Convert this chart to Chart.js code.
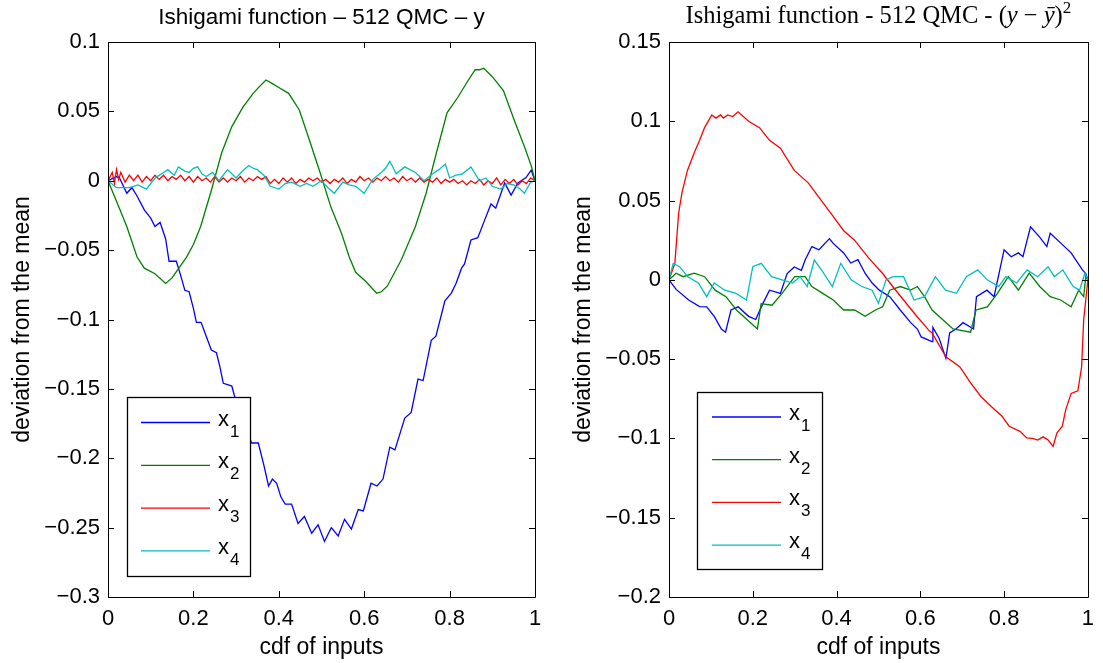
<!DOCTYPE html>
<html>
<head>
<meta charset="utf-8">
<script src="https://cdn.jsdelivr.net/npm/chart.js@4.4.1/dist/chart.umd.min.js"></script>
<style>
  html, body { margin: 0; padding: 0; background: #fff; }
  #wrap { position: relative; width: 1103px; height: 663px; overflow: hidden; }
  canvas { position: absolute; top: 0; }
</style>
</head>
<body>
<div id="wrap">
  <canvas id="left" width="551" height="663" style="left:0"></canvas>
  <canvas id="right" width="552" height="663" style="left:551px"></canvas>
</div>
<script>
// ---------------- DATA ----------------
const seriesNames = ["x1", "x2", "x3", "x4"];
const seriesColors = ["#0000ff", "#008000", "#ff0000", "#00bfbf"];
const xTicks = [0, 0.2, 0.4, 0.6, 0.8, 1];
const yTicksLeft = [0.1, 0.05, 0, -0.05, -0.1, -0.15, -0.2, -0.25, -0.3];
const yTicksRight = [0.15, 0.1, 0.05, 0, -0.05, -0.1, -0.15, -0.2];

// Left panel: y
const L1cdf = [0,0.02,0.027,0.044,0.056,0.068,0.085,0.1,0.11,0.122,0.135,0.143,0.149,0.16,0.17,0.18,0.19,0.2,0.207,0.218,0.23,0.242,0.254,0.262,0.27,0.28,0.29,0.297,0.31,0.322,0.336,0.352,0.365,0.376,0.385,0.395,0.405,0.415,0.43,0.445,0.46,0.477,0.492,0.507,0.515,0.523,0.539,0.554,0.57,0.586,0.598,0.616,0.63,0.644,0.66,0.672,0.695,0.71,0.726,0.738,0.757,0.768,0.789,0.804,0.815,0.828,0.835,0.85,0.866,0.88,0.897,0.908,0.929,0.944,0.96,0.979,0.991,1];
const L1val = [0,0.003,0.002,-0.009,-0.005,-0.011,-0.021,-0.027,-0.033,-0.03,-0.042,-0.058,-0.058,-0.058,-0.068,-0.079,-0.08,-0.092,-0.102,-0.102,-0.112,-0.122,-0.124,-0.134,-0.146,-0.147,-0.148,-0.156,-0.165,-0.176,-0.189,-0.189,-0.205,-0.22,-0.215,-0.218,-0.228,-0.233,-0.233,-0.247,-0.242,-0.254,-0.248,-0.26,-0.255,-0.25,-0.256,-0.244,-0.251,-0.237,-0.238,-0.218,-0.22,-0.215,-0.192,-0.194,-0.171,-0.167,-0.143,-0.144,-0.115,-0.112,-0.0865,-0.081,-0.074,-0.063,-0.06,-0.0427,-0.041,-0.03,-0.0167,-0.0198,-0.0016,-0.0103,-0.0016,0.0023,0.0077,0];

const L2cdf = [0,0.019,0.044,0.068,0.085,0.11,0.135,0.15,0.159,0.184,0.2,0.217,0.242,0.266,0.29,0.316,0.34,0.355,0.37,0.385,0.398,0.423,0.448,0.472,0.497,0.522,0.547,0.565,0.58,0.605,0.629,0.64,0.654,0.687,0.72,0.745,0.769,0.794,0.819,0.844,0.86,0.87,0.88,0.9,0.926,0.951,0.976,0.992,1];
const L2val = [0,-0.014,-0.033,-0.055,-0.063,-0.067,-0.074,-0.07,-0.066,-0.055,-0.046,-0.033,-0.007,0.02,0.039,0.053,0.063,0.068,0.0726,0.07,0.0676,0.063,0.051,0.029,0.0056,-0.019,-0.038,-0.055,-0.066,-0.073,-0.081,-0.08,-0.076,-0.057,-0.033,-0.009,0.02,0.049,0.06,0.0726,0.08,0.08,0.081,0.075,0.065,0.044,0.024,0.01,0];

const L3cdf = [0,0.01,0.015,0.02,0.025,0.03,0.04,0.05,0.06,0.07,0.08,0.09,0.1,0.11,0.12,0.13,0.14,0.15,0.16,0.17,0.18,0.19,0.2,0.21,0.22,0.23,0.24,0.25,0.26,0.27,0.28,0.29,0.3,0.31,0.32,0.33,0.34,0.35,0.36,0.37,0.38,0.39,0.4,0.41,0.42,0.43,0.44,0.45,0.46,0.47,0.48,0.49,0.5,0.51,0.52,0.53,0.54,0.55,0.56,0.57,0.58,0.59,0.6,0.61,0.62,0.63,0.64,0.65,0.66,0.67,0.68,0.69,0.7,0.71,0.72,0.73,0.74,0.75,0.76,0.77,0.78,0.79,0.8,0.81,0.82,0.83,0.84,0.85,0.86,0.87,0.88,0.89,0.9,0.91,0.92,0.93,0.94,0.95,0.96,0.97,0.98,0.99,1];
const L3val = [0,0.006,-0.002,0.008,0.001,0.006,-0.001,0.004,0.0,0.004,-0.001,0.003,0.0,0.004,0.001,0.004,0.0,0.003,0.001,0.004,0.0,0.003,-0.001,0.003,0.0,0.002,-0.001,0.003,-0.001,0.002,-0.001,0.002,0.0,0.003,-0.001,0.002,0.0,0.003,0.001,0.003,-0.002,0.001,-0.002,0.002,-0.001,0.002,-0.002,0.001,-0.001,0.002,0.0,0.002,-0.001,0.001,-0.002,0.001,-0.001,0.002,-0.002,0.001,-0.001,0.003,0.0,0.002,-0.001,0.002,0.0,0.003,0.0,0.002,-0.001,0.003,0.0,0.002,-0.001,0.002,-0.001,0.001,-0.001,0.002,-0.002,0.001,-0.001,0.001,-0.002,0.0,-0.003,0.0,-0.002,0.001,-0.003,0.0,-0.002,0.002,-0.003,0.001,-0.002,0.001,-0.003,0.0,-0.002,0.002,0];

const L4cdf = [0,0.02,0.05,0.07,0.09,0.105,0.115,0.13,0.14,0.155,0.165,0.18,0.19,0.2,0.21,0.22,0.23,0.245,0.26,0.27,0.28,0.29,0.3,0.315,0.33,0.34,0.35,0.365,0.38,0.4,0.415,0.43,0.45,0.465,0.48,0.5,0.515,0.53,0.55,0.565,0.58,0.6,0.62,0.64,0.65,0.66,0.675,0.695,0.72,0.74,0.76,0.775,0.79,0.8,0.815,0.83,0.85,0.87,0.885,0.9,0.92,0.935,0.95,0.965,0.975,0.99,1];
const L4val = [0,-0.005,-0.005,-0.003,-0.006,0.0,0.003,0.006,0.008,0.004,0.01,0.007,0.006,0.009,0.01,0.005,0.003,0.006,0.0,0.004,0.008,0.005,0.002,0.007,0.011,0.009,0.008,0.004,-0.004,-0.006,-0.002,-0.001,-0.004,-0.002,-0.004,0.0,-0.005,-0.009,-0.001,-0.003,-0.004,-0.009,0.001,0.006,0.009,0.014,0.005,0.01,0.006,0.0,0.005,0.008,0.012,0.002,0.004,0.005,0.01,0.0,0.002,-0.004,-0.006,-0.002,-0.003,-0.006,-0.009,-0.001,0];

// Right panel: (y - ybar)^2
const R1cdf = [0,0.017,0.047,0.073,0.09,0.108,0.125,0.135,0.148,0.165,0.19,0.207,0.224,0.24,0.266,0.282,0.299,0.316,0.325,0.341,0.358,0.383,0.392,0.417,0.434,0.451,0.468,0.485,0.502,0.527,0.552,0.577,0.593,0.602,0.628,0.63,0.645,0.661,0.67,0.685,0.702,0.727,0.734,0.759,0.776,0.8,0.817,0.834,0.845,0.863,0.885,0.902,0.91,0.936,0.96,0.987,0.995,1];
const R1val = [0,-0.006,-0.0127,-0.0169,-0.017,-0.023,-0.031,-0.033,-0.019,-0.017,-0.023,-0.025,-0.015,-0.0065,-0.0085,0.004,0.0081,0.006,0.0125,0.021,0.019,0.026,0.023,0.017,0.0106,0.0127,0.0042,-0.002,-0.0065,-0.0106,-0.019,-0.027,-0.031,-0.036,-0.039,-0.03,-0.037,-0.0495,-0.0335,-0.031,-0.027,-0.031,-0.0106,-0.0065,-0.0106,0.019,0.0146,0.017,0.0146,0.0335,0.027,0.021,0.0294,0.023,0.017,0.0063,0.004,0];

const R2cdf = [0,0.017,0.034,0.06,0.085,0.11,0.136,0.161,0.186,0.211,0.22,0.246,0.27,0.3,0.325,0.341,0.367,0.392,0.417,0.443,0.468,0.493,0.51,0.527,0.552,0.577,0.593,0.61,0.628,0.653,0.678,0.72,0.733,0.76,0.784,0.81,0.834,0.86,0.885,0.91,0.935,0.96,0.978,0.99,0.995,1];
const R2val = [0,0.0042,0.002,0.0042,0.002,-0.0065,-0.0106,-0.019,-0.025,-0.031,-0.015,-0.016,-0.0085,0.002,0.002,-0.0042,-0.0085,-0.0127,-0.019,-0.019,-0.023,-0.019,-0.017,-0.0065,-0.0042,-0.0065,-0.0042,-0.0106,-0.019,-0.025,-0.031,-0.033,-0.019,-0.017,-0.0085,0.002,-0.0065,0.0042,-0.0042,-0.0106,-0.0127,-0.017,-0.0065,-0.0106,0.002,0];

const R3cdf = [0,0.014,0.023,0.031,0.044,0.06,0.073,0.085,0.102,0.112,0.123,0.13,0.14,0.152,0.165,0.19,0.216,0.24,0.266,0.299,0.333,0.358,0.392,0.417,0.443,0.476,0.51,0.535,0.56,0.593,0.62,0.628,0.661,0.694,0.72,0.745,0.77,0.795,0.812,0.838,0.854,0.868,0.88,0.893,0.905,0.917,0.926,0.939,0.947,0.96,0.976,0.985,0.99,1];
const R3val = [0,0.0104,0.042,0.055,0.069,0.08,0.088,0.096,0.104,0.102,0.104,0.102,0.104,0.103,0.106,0.1,0.096,0.088,0.083,0.069,0.061,0.052,0.04,0.031,0.025,0.014,0.004,-0.0045,-0.0127,-0.0234,-0.0317,-0.0335,-0.0485,-0.0548,-0.065,-0.0737,-0.08,-0.086,-0.0923,-0.0955,-0.0997,-0.1,-0.101,-0.099,-0.101,-0.105,-0.0966,-0.0923,-0.082,-0.0716,-0.07,-0.055,-0.025,0];

const R4cdf = [0,0.01,0.025,0.045,0.07,0.09,0.108,0.133,0.16,0.185,0.2,0.22,0.245,0.27,0.295,0.313,0.33,0.347,0.364,0.39,0.41,0.435,0.46,0.485,0.5,0.518,0.535,0.56,0.585,0.61,0.636,0.66,0.686,0.71,0.737,0.76,0.787,0.804,0.83,0.855,0.88,0.905,0.92,0.94,0.965,0.98,0.993,1];
const R4val = [0,0.0104,0.0083,0.002,-0.002,-0.0106,-0.002,-0.0065,-0.0085,-0.0127,0.0083,0.0104,0.002,0,-0.002,0.002,-0.0042,0.0125,0.0063,-0.0042,0.0104,0,-0.0042,-0.0065,-0.0148,0,0.002,0.002,-0.0127,-0.0106,0.002,-0.0065,-0.0085,0.002,0.0063,0,-0.0042,0.002,-0.002,0.0063,0.002,0.0083,0.002,0.0063,-0.0042,-0.0065,0.0042,0];

// ---------------- HELPERS ----------------
function zip(xs, ys) {
  const n = Math.min(xs.length, ys.length);
  const out = [];
  for (let i = 0; i < n; i++) out.push({ x: xs[i], y: ys[i] });
  return out;
}
function fmt(v) {
  const s = String(Math.round(v * 1000) / 1000);
  return s.replace('-', '\u2212');
}
const SANS = '"Liberation Sans", Arial, Helvetica, sans-serif';
const SERIF = '"Liberation Serif", "DejaVu Serif", serif';
const LINE_W = 1.3;

function makeDatasets(pairs) {
  return pairs.map((p, i) => ({
    label: seriesNames[i],
    data: zip(p[0], p[1]),
    borderColor: seriesColors[i],
    backgroundColor: seriesColors[i],
    borderWidth: LINE_W,
    pointRadius: 0,
    tension: 0,
    fill: false,
    order: 4 - i
  }));
}

// frame, inner ticks, legend and title plugin
function framePlugin(cfg) {
  return {
    id: 'frame_' + cfg.id,
    afterDatasetsDraw(chart) {
      const ctx = chart.ctx;
      const a = chart.chartArea;
      const xs = chart.scales.x, ys = chart.scales.y;
      ctx.save();
      ctx.strokeStyle = '#000';
      ctx.lineWidth = 1;
      ctx.beginPath();
      ctx.rect(Math.round(a.left) + 0.5, Math.round(a.top) + 0.5,
               Math.round(a.right - a.left), Math.round(a.bottom - a.top));
      ctx.stroke();
      const tl = 6;
      ctx.beginPath();
      xTicks.forEach(t => {
        const px = Math.round(xs.getPixelForValue(t)) + 0.5;
        ctx.moveTo(px, a.bottom); ctx.lineTo(px, a.bottom - tl);
        ctx.moveTo(px, a.top); ctx.lineTo(px, a.top + tl);
      });
      cfg.yTicks.forEach(t => {
        const py = Math.round(ys.getPixelForValue(t)) + 0.5;
        ctx.moveTo(a.left, py); ctx.lineTo(a.left + tl, py);
        ctx.moveTo(a.right, py); ctx.lineTo(a.right - tl, py);
      });
      ctx.stroke();

      // legend box
      const L = cfg.legend;
      ctx.fillStyle = '#fff';
      ctx.fillRect(L.x, L.y, L.w, L.h);
      ctx.strokeStyle = '#000';
      ctx.lineWidth = 1.3;
      ctx.strokeRect(L.x + 0.5, L.y + 0.5, L.w, L.h);
      chart.data.datasets.forEach((ds, i) => {
        const cy = L.y + L.first + i * L.step;
        ctx.strokeStyle = seriesColors[i];
        ctx.lineWidth = LINE_W;
        ctx.beginPath();
        ctx.moveTo(L.x + L.lineX0, cy);
        ctx.lineTo(L.x + L.lineX1, cy);
        ctx.stroke();
        ctx.fillStyle = '#000';
        ctx.textBaseline = 'alphabetic';
        ctx.textAlign = 'left';
        ctx.font = '22px ' + SANS;
        const tx = L.x + L.lineX1 + 8;
        ctx.fillText('x', tx, cy + 3);
        const w = ctx.measureText('x').width;
        ctx.font = '17px ' + SANS;
        ctx.fillText(ds.label.slice(1), tx + w + 1, cy + 14);
      });
      ctx.restore();
    },
    afterDraw(chart) {
      const ctx = chart.ctx;
      const a = chart.chartArea;
      const cx = (a.left + a.right) / 2;
      ctx.save();
      ctx.fillStyle = '#000';
      ctx.textBaseline = 'alphabetic';
      if (cfg.id === 'left') {
        ctx.font = '22.5px ' + SANS;
        ctx.textAlign = 'center';
        ctx.fillText('Ishigami function \u2013 512 QMC \u2013 y', cx, 24);
      } else {
        const parts = [
          { t: 'Ishigami function - 512 QMC - (', f: '24.5px ' + SERIF, dy: 0 },
          { t: 'y', f: 'italic 24.5px ' + SERIF, dy: 0 },
          { t: ' \u2212 ', f: '24.5px ' + SERIF, dy: 0 },
          { t: 'y\u0304', f: 'italic 24.5px ' + SERIF, dy: 0 },
          { t: ')', f: '24.5px ' + SERIF, dy: 0 },
          { t: '2', f: '17px ' + SERIF, dy: -10 }
        ];
        let total = 0;
        parts.forEach(p => { ctx.font = p.f; p.w = ctx.measureText(p.t).width; total += p.w; });
        let x = cx - total / 2;
        ctx.textAlign = 'left';
        parts.forEach(p => { ctx.font = p.f; ctx.fillText(p.t, x, 23 + p.dy); x += p.w; });
      }
      ctx.restore();
    }
  };
}

function makeChart(canvasId, cfg) {
  return new Chart(document.getElementById(canvasId), {
    type: 'line',
    data: { datasets: makeDatasets(cfg.pairs) },
    options: {
      responsive: false,
      animation: false,
      devicePixelRatio: 1,
      layout: { padding: { top: 42, right: cfg.padRight, bottom: 0, left: 0 } },
      plugins: { legend: { display: false }, tooltip: { enabled: false }, title: { display: false } },
      elements: { line: { borderWidth: LINE_W } },
      scales: {
        x: {
          type: 'linear', min: 0, max: 1,
          grid: { display: false, drawTicks: false },
          border: { display: false },
          afterFit: s => { s.height = 66; },
          afterBuildTicks: s => { s.ticks = xTicks.map(v => ({ value: v })); },
          ticks: { color: '#000', font: { family: SANS, size: 22 }, padding: 9, maxRotation: 0,
                   callback: v => fmt(v) },
          title: { display: true, text: 'cdf of inputs', color: '#000',
                   font: { family: SANS, size: 23 }, padding: { top: 0, bottom: 2 } }
        },
        y: {
          type: 'linear', min: cfg.yMin, max: cfg.yMax,
          grid: { display: false, drawTicks: false },
          border: { display: false },
          afterFit: s => { s.width = cfg.yWidth; },
          afterBuildTicks: s => { s.ticks = cfg.yTicks.map(v => ({ value: v })); },
          ticks: { color: '#000', font: { family: SANS, size: 22 }, padding: 8,
                   callback: v => fmt(v) },
          title: { display: true, text: 'deviation from the mean', color: '#000',
                   font: { family: SANS, size: 23 }, padding: { top: cfg.yTitlePad, bottom: 0 } }
        }
      }
    },
    plugins: [framePlugin(cfg)]
  });
}

makeChart('left', {
  id: 'left',
  pairs: [[L1cdf, L1val], [L2cdf, L2val], [L3cdf, L3val], [L4cdf, L4val]],
  yMin: -0.3, yMax: 0.1, yTicks: yTicksLeft,
  yWidth: 108, padRight: 16, yTitlePad: 9,
  legend: { x: 127, y: 397, w: 123, h: 179, first: 25.5, step: 42.8, lineX0: 14, lineX1: 83 }
});
makeChart('right', {
  id: 'right',
  pairs: [[R1cdf, R1val], [R2cdf, R2val], [R3cdf, R3val], [R4cdf, R4val]],
  yMin: -0.2, yMax: 0.15, yTicks: yTicksRight,
  yWidth: 118, padRight: 6, yTitlePad: 19,
  legend: { x: 697 - 551, y: 392, w: 125, h: 177, first: 25, step: 42.7, lineX0: 15, lineX1: 84 }
});
</script>
</body>
</html>
